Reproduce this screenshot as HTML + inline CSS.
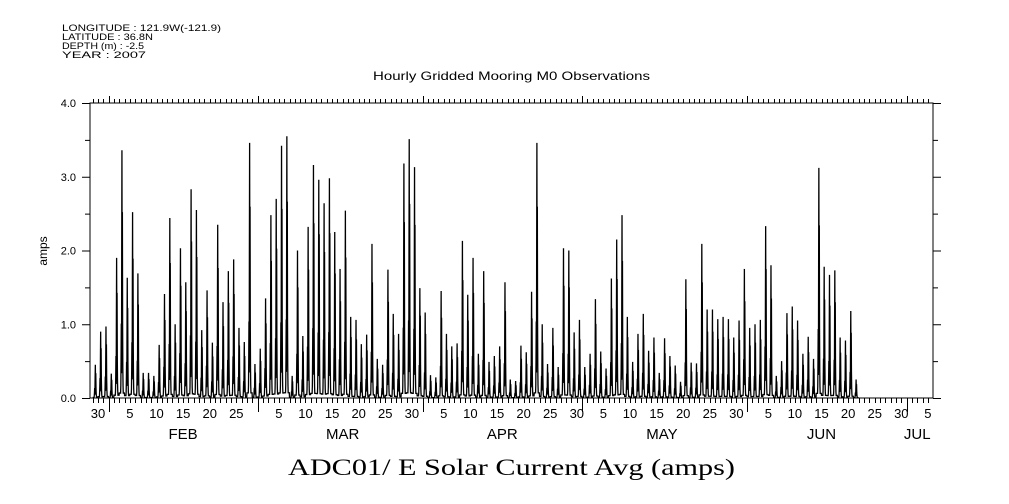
<!DOCTYPE html>
<html><head><meta charset="utf-8"><style>
html,body{margin:0;padding:0;background:#fff;}
svg{display:block;font-family:"Liberation Sans",sans-serif;}
</style></head><body>
<svg id="chart" width="1009" height="504" viewBox="0 0 1009 504">
<g font-size="9" fill="#000">
<text x="62" y="31" textLength="159" lengthAdjust="spacingAndGlyphs">LONGITUDE : 121.9W(-121.9)</text>
<text x="62" y="40" textLength="91" lengthAdjust="spacingAndGlyphs">LATITUDE : 36.8N</text>
<text x="62" y="49" textLength="82" lengthAdjust="spacingAndGlyphs">DEPTH (m) : -2.5</text>
<text x="62" y="58" textLength="84" lengthAdjust="spacingAndGlyphs">YEAR : 2007</text>
</g>
<text x="373" y="80" textLength="277" lengthAdjust="spacingAndGlyphs" font-size="12">Hourly Gridded Mooring M0 Observations</text>
<text transform="translate(47,251) rotate(-90)" text-anchor="middle" font-size="12">amps</text>
<text x="288" y="475" textLength="447" lengthAdjust="spacingAndGlyphs" font-size="23" font-family="'Liberation Serif',serif">ADC01/ E Solar Current Avg (amps)</text>
<g id="axes"></g>
<g id="series"></g>
</svg>
<script>
const startDay = 29;
const dailyPeaks = [0.45,0.9,0.97,0.33,1.9,3.36,1.63,2.52,1.69,0.34,0.34,0.3,0.72,1.41,2.44,1.0,2.03,1.57,2.83,2.55,0.92,1.46,0.75,2.35,1.3,1.72,1.88,0.95,0.76,3.46,0.46,0.67,1.35,2.48,2.7,3.42,3.55,0.3,2.0,0.84,2.32,
3.16,2.96,2.64,2.98,2.25,1.75,2.54,1.1,1.06,0.73,0.86,2.09,0.53,0.45,1.74,1.14,0.87,3.18,3.51,3.13,1.49,1.16,0.31,0.28,1.45,0.87,0.7,0.74,2.13,1.4,1.9,0.6,1.72,0.49,0.57,0.7,1.57,0.25,0.23,0.71,
0.62,1.44,3.46,1.0,0.46,0.95,0.42,2.03,2.0,0.89,1.06,0.42,0.6,1.34,0.63,0.4,1.62,2.15,2.48,1.1,0.49,0.87,1.14,0.64,0.82,0.34,0.81,0.57,0.44,0.22,1.61,0.48,0.47,2.09,1.2,1.2,1.07,1.1,1.07,
0.82,1.05,1.75,0.95,1.0,1.06,2.33,1.8,0.3,0.5,1.15,1.24,1.05,0.6,0.83,0.53,3.12,1.78,1.67,1.73,0.82,0.78,1.18,0.25];
const hourShape = [0.02,0.02,0.02,0.02,0.02,0.02,0.02,0.05,0.15,0.3,0.1,0.6,1.0,0.45,0.75,0.3,0.12,0.05,0.02,0.02,0.02,0.02,0.02,0.02];
const yTicks = [0,0.5,1,1.5,2,2.5,3,3.5,4];
const yLabels = ["0.0","1.0","2.0","3.0","4.0"];
const dayLabels = [[30,30],[36,5],[41,10],[46,15],[51,20],[56,25],[64,5],[69,10],[74,15],[79,20],[84,25],[89,30],[95,5],[100,10],[105,15],[110,20],[115,25],[120,30],[125,5],[130,10],[135,15],[140,20],[145,25],[150,30],[156,5],[161,10],[166,15],[171,20],[176,25],[181,30],[186,5]];
const monthLabels = [["FEB",46],["MAR",76],["APR",106],["MAY",136],["JUN",166],["JUL",184]];
const monthStarts = [32,60,91,121,152,182];

const L=90,R=933,T=103,B=398;
const xs = d => 98 + (d-30)*5.32;
const ys = v => B - (v/4)*(B-T);
const NS="http://www.w3.org/2000/svg";
const axes=document.getElementById('axes'), series=document.getElementById('series');
function mk(tag,attrs,parent){const e=document.createElementNS(NS,tag);for(const k in attrs)e.setAttribute(k,attrs[k]);parent.appendChild(e);return e;}

const frame=mk('rect',{x:L,y:T,width:R-L,height:B-T,fill:'none',stroke:'#000','stroke-width':1},axes);



yTicks.forEach(v=>{
  const major = Number.isInteger(v);
  const len = major?8:5;
  const tl=mk('line',{x1:L-len,x2:L,y1:ys(v)+0.5,y2:ys(v)+0.5,stroke:'#000'},axes);
  
  
  const tr=mk('line',{x1:R,x2:R+len,y1:ys(v)+0.5,y2:ys(v)+0.5,stroke:'#000'},axes);
  
  
});
yLabels.forEach(s=>{
  const t=mk('text',{x:L-14,y:ys(parseFloat(s))+4,'text-anchor':'end','font-size':11},axes);
  t.textContent=s;
  
  
});
for(let d=29; d<=187; d++){
  const x=Math.round(xs(d))+0.5;
  if(x<L||x>R) continue;
  const isMonth = monthStarts.includes(d);
  const tb=mk('line',{x1:x,x2:x,y1:B,y2:B+(isMonth?14:5),stroke:'#000'},axes);
  
  
  const tt=mk('line',{x1:x,x2:x,y1:T-(isMonth?7:4),y2:T,stroke:'#000'},axes);
  
  
}
dayLabels.forEach(([d,s])=>{
  const t=mk('text',{x:xs(d),y:B+20,'text-anchor':'middle','font-size':13},axes);
  t.textContent=s;
  
  
});
monthLabels.forEach(([s,d])=>{
  const t=mk('text',{x:xs(d),y:B+41,'text-anchor':'middle','font-size':15},axes);
  t.textContent=s;
  
  
});

let pts=[];
dailyPeaks.forEach((v,i)=>{
  const d=startDay+i;
  hourShape.forEach((f,h)=>{
    pts.push(xs(d+h/24).toFixed(2)+','+ys(v*f).toFixed(2));
  });
});
const line=mk('polyline',{points:pts.join(' '),fill:'none',stroke:'#000','stroke-width':1.3},series);


</script>
</body></html>
